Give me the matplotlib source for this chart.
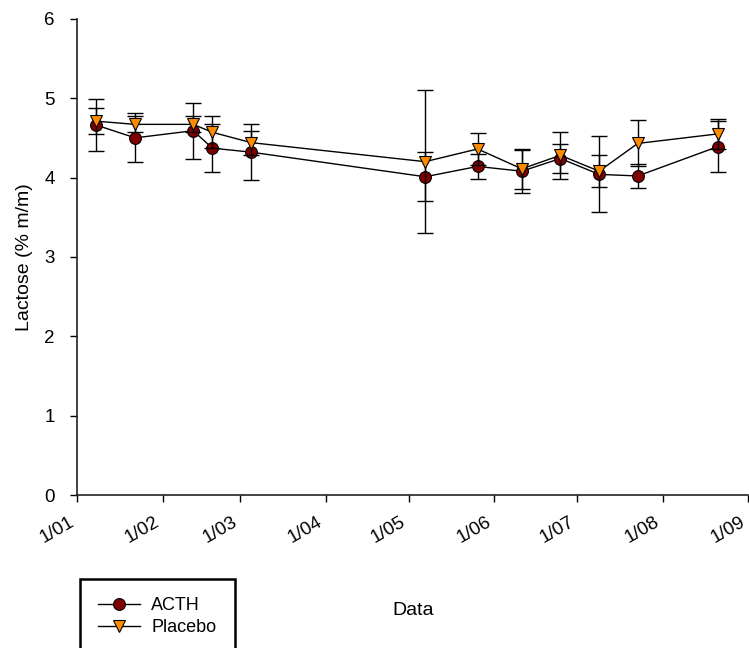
import matplotlib
matplotlib.use('Agg')
import matplotlib.pyplot as plt
from matplotlib.lines import Line2D
import datetime as dt

plt.rcParams['font.family'] = ['Liberation Sans', 'DejaVu Sans']

# sampling dates (day/month)
dates = [dt.date(2007, 1, 8), dt.date(2007, 1, 22), dt.date(2007, 2, 12), dt.date(2007, 2, 19),
         dt.date(2007, 3, 5), dt.date(2007, 5, 7), dt.date(2007, 5, 26), dt.date(2007, 6, 11),
         dt.date(2007, 6, 25), dt.date(2007, 7, 9), dt.date(2007, 7, 23), dt.date(2007, 8, 21)]

acth = [4.66, 4.50, 4.59, 4.37, 4.32, 4.01, 4.14, 4.08, 4.24, 4.04, 4.02, 4.39]
acth_err = [0.33, 0.31, 0.35, 0.30, 0.35, 0.31, 0.16, 0.27, 0.18, 0.48, 0.15, 0.32]

placebo = [4.71, 4.67, 4.67, 4.57, 4.44, 4.20, 4.36, 4.11, 4.28, 4.08, 4.43, 4.55]
placebo_err = [0.16, 0.10, 0.10, 0.20, 0.15, 0.90, 0.20, 0.25, 0.30, 0.20, 0.29, 0.19]

tick_dates = [dt.date(2007, m, 1) for m in range(1, 10)]
tick_labels = ['1/01', '1/02', '1/03', '1/04', '1/05', '1/06', '1/07', '1/08', '1/09']

fig = plt.figure(figsize=(7.49, 6.48), dpi=100)
ax = fig.add_axes([0.103, 0.236, 0.896, 0.735])

ax.errorbar(dates, acth, yerr=acth_err, fmt='none', ecolor='black', elinewidth=1,
            capsize=5.5, capthick=1, zorder=2)
ax.plot(dates, acth, color='black', lw=1, marker='o', ms=8.5,
        mfc='#800000', mec='black', mew=0.8, zorder=3)
ax.errorbar(dates, placebo, yerr=placebo_err, fmt='none', ecolor='black', elinewidth=1,
            capsize=5.5, capthick=1, zorder=4)
ax.plot(dates, placebo, color='black', lw=1, marker='v', ms=9,
        mfc='#FF8C00', mec='black', mew=0.8, zorder=5)

ax.set_xlim(dt.date(2007, 1, 1), dt.date(2007, 9, 1))
ax.set_ylim(0, 6)
ax.set_yticks(range(0, 7))
ax.set_xticks(tick_dates)
ax.set_xticklabels(tick_labels, rotation=30, ha='right')

for s in ['top', 'right']:
    ax.spines[s].set_visible(False)
for s in ['left', 'bottom']:
    ax.spines[s].set_linewidth(1.2)
    ax.spines[s].set_color('#222222')
ax.tick_params(direction='out', length=5, width=1, labelsize=13.5, colors='black')
ax.tick_params(axis='x', pad=8)
ax.tick_params(axis='y', pad=11)

ax.set_ylabel('Lactose (% m/m)', fontsize=14, labelpad=8)
ax.set_xlabel('Data', fontsize=14, labelpad=40)

handles = [Line2D([], [], color='black', lw=1, marker='o', ms=8.5, mfc='#800000', mec='black', mew=0.8),
           Line2D([], [], color='black', lw=1, marker='v', ms=9, mfc='#FF8C00', mec='black', mew=0.8)]
leg = fig.legend(handles, ['ACTH', 'Placebo'], loc='upper left',
                 bbox_to_anchor=(80 / 749, 1 - 579 / 648), borderaxespad=0, fontsize=13,
                 fancybox=False, edgecolor='black', framealpha=1,
                 handlelength=2.3, handletextpad=0.65, borderpad=1.0, labelspacing=0.3)
leg.get_frame().set_linewidth(1.8)

fig.savefig('out.png', dpi=100)
plt.close(fig)
